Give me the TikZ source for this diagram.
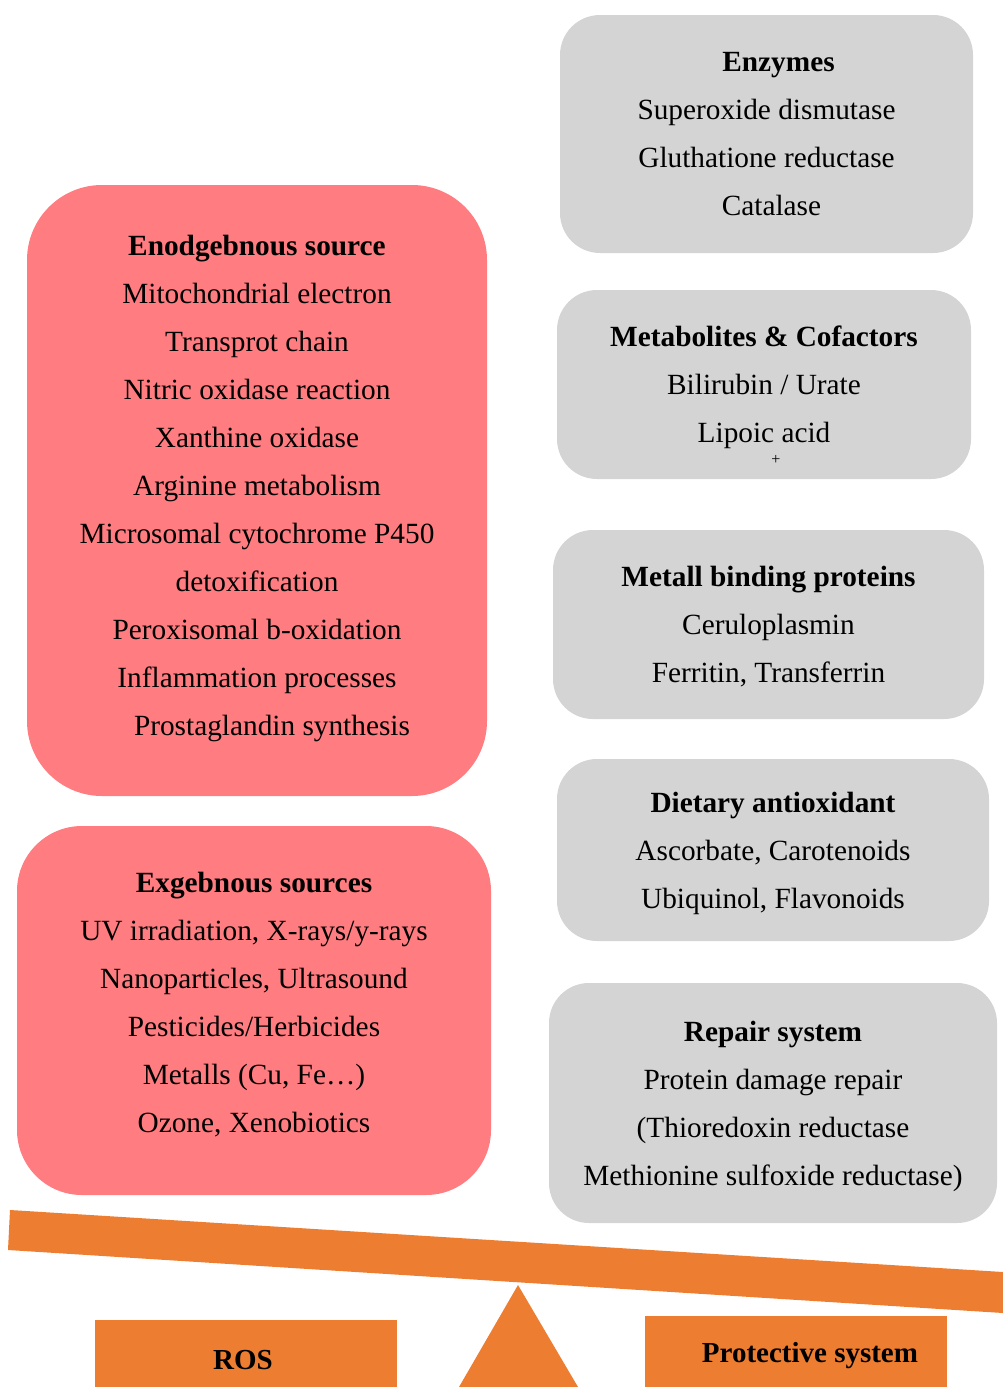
\documentclass[tikz,border=0pt]{standalone}
\usepackage{fontspec}
\setmainfont{Liberation Serif}
\definecolor{boxgray}{HTML}{D4D4D4}
\definecolor{boxpink}{HTML}{FF7C80}
\definecolor{scaleorange}{HTML}{ED7D31}
\begin{document}
\begin{tikzpicture}[x=1pt,y=-1pt,
  txt/.style={font=\fontsize{29.3}{48}\selectfont, align=center, inner sep=0pt, text depth=0pt},
  graybox/.style={txt, fill=boxgray, draw=none, rounded corners=40pt},
  pinkbox/.style={txt, fill=boxpink, draw=none, rounded corners=75pt},
  orangebox/.style={fill=scaleorange, draw=none, inner sep=0pt},
  orangetext/.style={inner sep=0pt, font=\fontsize{29}{32}\selectfont\bfseries}
]
\useasboundingbox (0,0) rectangle (1003,1387);
% right column
\node[graybox, minimum width=413pt, minimum height=238pt] (enz) at (766.5,134)
  {\hspace*{24pt}\textbf{Enzymes}\\Superoxide dismutase\\Gluthatione reductase\\\hspace*{10pt}Catalase};
\node[graybox, minimum width=414pt, minimum height=189pt] (met) at (764,384.5)
  {\textbf{Metabolites \& Cofactors}\\Bilirubin / Urate\\Lipoic acid};
\node[font=\fontsize{16}{16}\selectfont, inner sep=0pt] (plus) at (776,460) {+};
\node[graybox, minimum width=431pt, minimum height=189pt] (mbp) at (768.5,624.5)
  {\textbf{Metall binding proteins}\\Ceruloplasmin\\Ferritin, Transferrin};
\node[graybox, minimum width=432pt, minimum height=182pt] (diet) at (773,850)
  {\textbf{Dietary antioxidant}\\Ascorbate, Carotenoids\\Ubiquinol, Flavonoids};
\node[graybox, minimum width=448pt, minimum height=240pt] (rep) at (773,1103)
  {\textbf{Repair system}\\Protein damage repair\\(Thioredoxin reductase\\Methionine sulfoxide reductase)};
% left column
\node[pinkbox, minimum width=460pt, minimum height=611pt] (endo) at (257,490.5)
  {\textbf{Enodgebnous source}\\Mitochondrial electron\\Transprot chain\\Nitric oxidase reaction\\Xanthine oxidase\\Arginine metabolism\\Microsomal cytochrome P450\\detoxification\\Peroxisomal b-oxidation\\Inflammation processes\\\hspace*{30pt}Prostaglandin synthesis\\[-38pt]};
\node[pinkbox, rounded corners=65pt, minimum width=474pt, minimum height=369pt] (exo) at (254,1010.5)
  {\textbf{Exgebnous sources}\\UV irradiation, X-rays/y-rays\\Nanoparticles, Ultrasound\\Pesticides/Herbicides\\Metalls (Cu, Fe…)\\Ozone, Xenobiotics\\[-32pt]};
% balance
\fill[scaleorange] (10,1210) -- (1003,1272) -- (1003,1313) -- (8,1250) -- cycle;
\fill[scaleorange] (518,1285) -- (578,1387) -- (459,1387) -- cycle;
\node[orangebox, minimum width=302pt, minimum height=67pt] (ros) at (246,1353.5) {};
\node[orangetext] (rostext) at (243,1360) {ROS};
\node[orangebox, minimum width=302pt, minimum height=71pt] (prot) at (796,1351.5) {};
\node[orangetext] (prottext) at (810,1356) {Protective system};
\end{tikzpicture}
\end{document}
